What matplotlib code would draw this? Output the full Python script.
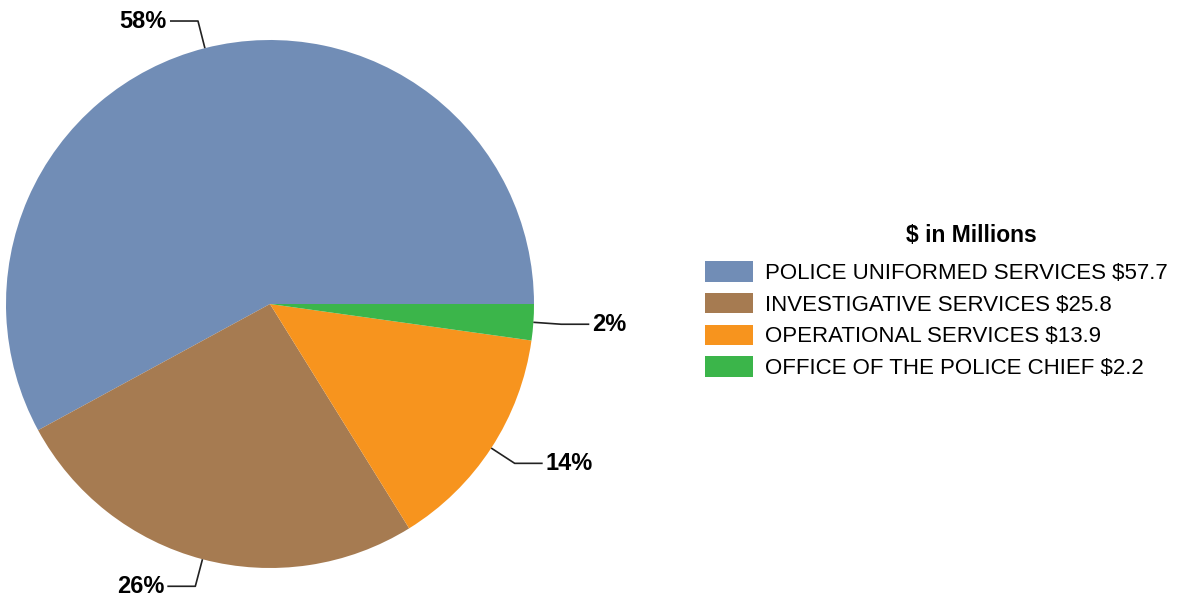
import numpy as np
import matplotlib
matplotlib.use("Agg")
import matplotlib.pyplot as plt

plt.rcParams['font.family'] = ['Liberation Sans', 'DejaVu Sans']

names = ['POLICE UNIFORMED SERVICES', 'INVESTIGATIVE SERVICES',
         'OPERATIONAL SERVICES', 'OFFICE OF THE POLICE CHIEF']
amounts = [57.7, 25.8, 13.9, 2.2]
colors = ['#718db6', '#a67b51', '#f7941e', '#3bb54a']

W, H = 1199, 598
fig = plt.figure(figsize=(W / 100, H / 100), dpi=100)
# axes in pixel units, y measured upward
ax = fig.add_axes([0, 0, 1, 1])

cx, cy, r = 270, H - 304, 264
wedges, _ = ax.pie(amounts, colors=colors, startangle=0, counterclock=True,
                   center=(cx, cy), radius=r, frame=True)
ax.set_xlim(0, W)
ax.set_ylim(0, H)
ax.set_aspect('equal')
ax.axis('off')

# percentage labels with elbow leader lines
total = sum(amounts)
for w, v in zip(wedges, amounts):
    mid = np.deg2rad((w.theta1 + w.theta2) / 2)
    dx, dy = np.cos(mid), np.sin(mid)
    x0, y0 = cx + r * dx, cy + r * dy
    x1, y1 = cx + (r + 28) * dx, cy + (r + 28) * dy
    side = 1 if dx >= 0 else -1
    x2 = x1 + side * 28
    ax.plot([x0, x1, x2], [y0, y1, y1], color='#222222', lw=1.2,
            solid_capstyle='butt', clip_on=False)
    ax.text(x2 + side * 3, y1, f"{round(v / total * 100)}%",
            ha='left' if side > 0 else 'right', va='center',
            fontsize=17, fontweight='bold', color='black')

labels = [f"{n} ${a}" for n, a in zip(names, amounts)]
leg = ax.legend(wedges, labels, loc='upper left',
                bbox_to_anchor=(705 / W, 1 - 261 / H), bbox_transform=fig.transFigure,
                frameon=False, fontsize=16, handlelength=2.16, handleheight=1.05,
                handletextpad=0.55, labelspacing=0.4, borderpad=0, borderaxespad=0)

fig.text(971 / W, 1 - 236 / H, '$ in Millions', ha='center', va='center',
         fontsize=16.5, fontweight='bold')

fig.savefig('out.png', dpi=100)
